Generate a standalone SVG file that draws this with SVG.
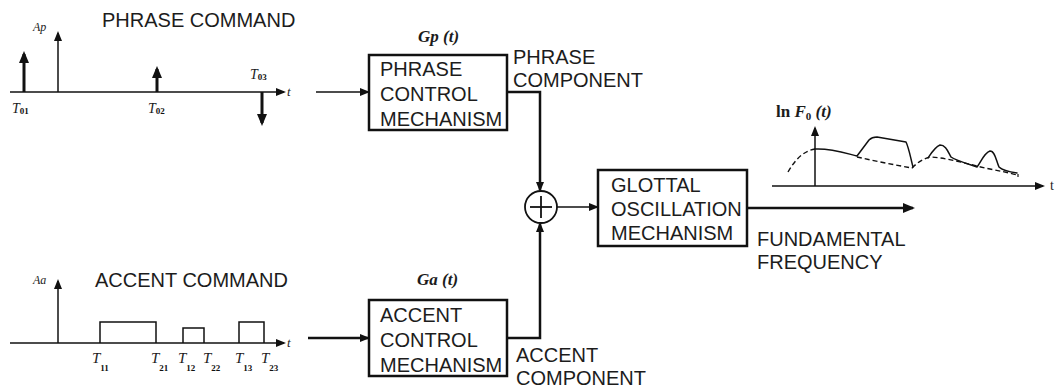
<svg xmlns="http://www.w3.org/2000/svg" width="1061" height="389" viewBox="0 0 1061 389">
<style>
  .lbl { font-family: "Liberation Sans", Arial, sans-serif; font-size: 20px; fill: #1c1c1c; }
  .ser { font-family: "Liberation Serif", "Times New Roman", serif; fill: #1c1c1c; }
  .it { font-style: italic; }
  .bi { font-style: italic; font-weight: bold; }
  .sub { font-size: 9px; font-weight: bold; fill: #111; }
  .box { fill: none; stroke: #111; stroke-width: 2.5; }
  .conn { fill: none; stroke: #111; stroke-width: 2.5; }
  .axis { fill: none; stroke: #111; stroke-width: 1.5; }
  .cmd { fill: none; stroke: #111; stroke-width: 3; }
  .acc { fill: none; stroke: #111; stroke-width: 1.5; }
  .curve { fill: none; stroke: #111; stroke-width: 1.5; stroke-linejoin: round; stroke-linecap: round; }
  .dash { fill: none; stroke: #111; stroke-width: 1.4; stroke-dasharray: 5 3; }
</style>
<defs>
  <marker id="arrC" markerUnits="userSpaceOnUse" markerWidth="12" markerHeight="10" refX="10" refY="5" orient="auto">
    <path d="M0,0 L12,5 L0,10 z" fill="#111"/>
  </marker>
  <marker id="arrS" markerUnits="userSpaceOnUse" markerWidth="10" markerHeight="8" refX="8" refY="4" orient="auto">
    <path d="M0,0 L10,4 L0,8 z" fill="#111"/>
  </marker>
  <marker id="arrT" markerUnits="userSpaceOnUse" markerWidth="12" markerHeight="10" refX="9" refY="5" orient="auto">
    <path d="M0,0 L12,5 L0,10 z" fill="#111"/>
  </marker>
</defs>
<rect width="1061" height="389" fill="#ffffff"/>

<g id="phrase-command">
  <text class="lbl" x="102" y="27">PHRASE COMMAND</text>
  <line class="axis" x1="10" y1="92" x2="284" y2="92" marker-end="url(#arrS)"/>
  <text class="ser it" x="287" y="96" font-size="13">t</text>
  <line class="axis" x1="58" y1="92" x2="58" y2="33" marker-end="url(#arrS)"/>
  <text class="ser it" x="33" y="31" font-size="12">Ap</text>
  <line class="cmd" x1="24" y1="92" x2="24" y2="54" marker-end="url(#arrT)"/>
  <line class="cmd" x1="157" y1="92" x2="157" y2="69" marker-end="url(#arrT)"/>
  <line class="cmd" x1="262" y1="92" x2="262" y2="123" marker-end="url(#arrT)"/>
  <text class="ser" x="12" y="113"><tspan class="it" font-size="14">T</tspan><tspan class="sub" dy="1">01</tspan></text>
  <text class="ser" x="148" y="113"><tspan class="it" font-size="14">T</tspan><tspan class="sub" dy="1">02</tspan></text>
  <text class="ser" x="250" y="79"><tspan class="it" font-size="14">T</tspan><tspan class="sub" dy="1">03</tspan></text>
</g>

<g id="accent-command">
  <text class="lbl" x="95" y="287">ACCENT COMMAND</text>
  <line class="axis" x1="10" y1="343" x2="284" y2="343" marker-end="url(#arrS)"/>
  <text class="ser it" x="287" y="347" font-size="13">t</text>
  <line class="axis" x1="58" y1="343" x2="58" y2="281" marker-end="url(#arrS)"/>
  <text class="ser it" x="33" y="284" font-size="12">Aa</text>
  <path class="acc" d="M100,343 V322 H156 V343"/>
  <path class="acc" d="M183,343 V328 H204 V343"/>
  <path class="acc" d="M239,343 V322 H264 V343"/>
  <text class="ser" x="92" y="363"><tspan class="it" font-size="15">T</tspan><tspan class="sub" dy="8">11</tspan></text>
  <text class="ser" x="151" y="363"><tspan class="it" font-size="15">T</tspan><tspan class="sub" dy="8">21</tspan></text>
  <text class="ser" x="178" y="363"><tspan class="it" font-size="15">T</tspan><tspan class="sub" dy="8">12</tspan></text>
  <text class="ser" x="203" y="363"><tspan class="it" font-size="15">T</tspan><tspan class="sub" dy="8">22</tspan></text>
  <text class="ser" x="235" y="363"><tspan class="it" font-size="15">T</tspan><tspan class="sub" dy="8">13</tspan></text>
  <text class="ser" x="261" y="363"><tspan class="it" font-size="15">T</tspan><tspan class="sub" dy="8">23</tspan></text>
</g>

<g id="phrase-control">
  <text class="ser bi" x="418" y="42" font-size="17">Gp (t)</text>
  <rect class="box" x="369" y="55" width="138" height="75"/>
  <text class="lbl" x="380" y="76">PHRASE</text>
  <text class="lbl" x="380" y="101">CONTROL</text>
  <text class="lbl" x="380" y="126">MECHANISM</text>
</g>

<g id="accent-control">
  <text class="ser bi" x="417" y="285" font-size="17">Ga (t)</text>
  <rect class="box" x="369" y="300" width="138" height="76"/>
  <text class="lbl" x="380" y="322">ACCENT</text>
  <text class="lbl" x="380" y="347">CONTROL</text>
  <text class="lbl" x="380" y="372">MECHANISM</text>
</g>

<g id="sum">
  <circle cx="541" cy="207" r="16" fill="#fff" stroke="#111" stroke-width="1.8"/>
  <line x1="530" y1="207" x2="552" y2="207" stroke="#111" stroke-width="1.8"/>
  <line x1="541" y1="196" x2="541" y2="218" stroke="#111" stroke-width="1.8"/>
</g>

<g id="glottal">
  <rect class="box" x="598" y="170" width="149" height="76"/>
  <text class="lbl" x="611" y="192">GLOTTAL</text>
  <text class="lbl" x="611" y="216">OSCILLATION</text>
  <text class="lbl" x="611" y="240">MECHANISM</text>
</g>

<g id="labels">
  <text class="lbl" x="513" y="64">PHRASE</text>
  <text class="lbl" x="513" y="87">COMPONENT</text>
  <text class="lbl" x="516" y="362">ACCENT</text>
  <text class="lbl" x="516" y="385">COMPONENT</text>
  <text class="lbl" x="757" y="246">FUNDAMENTAL</text>
  <text class="lbl" x="757" y="269">FREQUENCY</text>
</g>

<g id="connectors">
  <line class="axis" x1="316" y1="92" x2="368" y2="92" marker-end="url(#arrS)"/>
  <line class="conn" x1="308" y1="338" x2="368" y2="338" marker-end="url(#arrS)" stroke-width="2"/>
  <path class="conn" d="M507,92 H540 V190" marker-end="url(#arrS)"/>
  <path class="conn" d="M507,338 H540 V224" marker-end="url(#arrS)"/>
  <line class="axis" x1="557" y1="207" x2="597" y2="207" marker-end="url(#arrS)"/>
  <line class="conn" x1="747" y1="208" x2="913" y2="208" marker-end="url(#arrC)"/>
</g>

<g id="f0-graph">
  <text class="ser" x="776" y="117" font-weight="bold" font-size="17">ln <tspan class="it">F</tspan><tspan font-size="11" dy="3">0</tspan><tspan class="it" dy="-3"> (t)</tspan></text>
  <line class="axis" x1="815" y1="186" x2="815" y2="128" marker-end="url(#arrS)"/>
  <line class="axis" x1="772" y1="186" x2="1043" y2="186" marker-end="url(#arrS)"/>
  <text class="ser" x="1050" y="190" font-size="14">t</text>
  <path class="dash" d="M788,172 C795,160 803,151 815,149"/>
  <path class="dash" d="M857,157 C875,161 895,165 912,168 C918,162 923,159 930,157 C950,158 970,165 990,169 C1000,171 1010,173 1017,175"/>
  <path class="curve" d="M815,149 C830,148 845,153 857,156 L869,140 C872,137 874,137 877,137 L906,142 C909,148 911,160 913,167"/>
  <path class="curve" d="M928,158 C932,152 935,147 940,145 C946,145 948,152 951,157 C955,160 965,163 977,167 C981,162 984,153 990,151 C995,151 996,160 999,167 C1003,171 1010,172 1017,173"/>
  <line x1="1018" y1="174" x2="1018" y2="177" stroke="#111" stroke-width="1.2"/>
</g>
</svg>
